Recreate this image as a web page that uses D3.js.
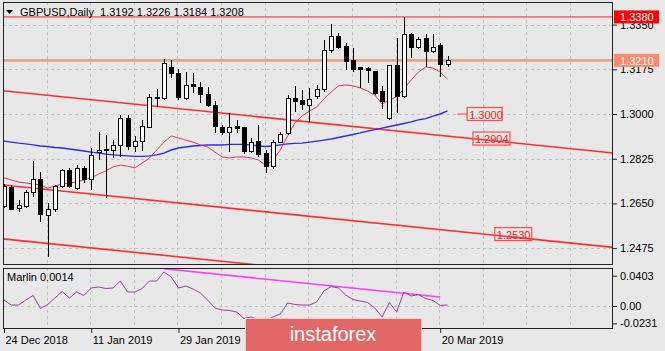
<!DOCTYPE html>
<html>
<head>
<meta charset="utf-8">
<script src="https://cdn.jsdelivr.net/npm/d3@7"></script>
<style>
    body { margin: 0; background: #e8e8e8; }
    text { font-family: "Liberation Sans", Arial, sans-serif; font-size: 11px; }
</style>
</head>
<body>
<div class="container"></div>
<script>
// GBPUSD daily bars, 24 Dec 2018 .. 21 Mar 2019
const open = [1.2637,1.2713,1.2629,1.2637,1.2694,1.2744,1.2601,1.2627,1.2715,1.2777,
    1.2708,1.2786,1.2744,1.2850,1.2862,1.2859,1.2876,1.2983,1.2872,1.2892,
    1.2948,1.3065,1.3061,1.3183,1.3159,1.3061,1.3115,1.3105,1.3078,1.3035,
    1.2946,1.2928,1.2953,1.2946,1.2855,1.2892,1.2846,1.2796,1.2889,1.2924,
    1.3061,1.3052,1.3035,1.3068,1.3094,1.3250,1.3305,1.3263,1.3211,1.3183,
    1.3179,1.3168,1.3087,1.2983,1.3188,1.3070,1.3313,1.3261,1.3296,1.3244,
    1.3267,1.3192]
const high = [1.2725,1.2722,1.2663,1.2703,1.2816,1.2774,1.2650,1.2722,1.2785,1.2787,
    1.2800,1.2796,1.2866,1.2931,1.2918,1.2898,1.2996,1.2996,1.2914,1.2977,
    1.3078,1.3097,1.3214,1.3211,1.3175,1.3166,1.3162,1.3126,1.3107,1.3052,
    1.2957,1.3003,1.2977,1.2950,1.2905,1.2957,1.2859,1.2898,1.2931,1.3074,
    1.3110,1.3094,1.3101,1.3114,1.3290,1.3352,1.3318,1.3277,1.3257,1.3185,
    1.3183,1.3170,1.3110,1.3192,1.3296,1.3381,1.3318,1.3300,1.3313,1.3313,
    1.3277,1.3226]
const low = [1.2632,1.2624,1.2618,1.2632,1.2676,1.2578,1.2440,1.2618,1.2709,1.2709,
    1.2703,1.2729,1.2703,1.2820,1.2670,1.2827,1.2833,1.2859,1.2852,1.2855,
    1.2944,1.3029,1.3055,1.3140,1.3055,1.3055,1.3081,1.3042,1.3029,1.2924,
    1.2918,1.2852,1.2924,1.2843,1.2846,1.2833,1.2770,1.2784,1.2885,1.2918,
    1.3009,1.3016,1.2970,1.3058,1.3087,1.3238,1.3253,1.3172,1.3166,1.3101,
    1.3123,1.3074,1.3018,1.2977,1.3003,1.3061,1.3218,1.3253,1.3185,1.3240,
    1.3146,1.3184]
const close = [1.2718,1.2628,1.2641,1.2694,1.2744,1.2605,1.2627,1.2715,1.2777,1.2715,
    1.2786,1.2744,1.2837,1.2858,1.2856,1.2876,1.2983,1.2872,1.2892,1.2950,
    1.3065,1.3061,1.3198,1.3159,1.3065,1.3111,1.3107,1.3078,1.3032,1.2953,
    1.2927,1.2948,1.2944,1.2852,1.2889,1.2840,1.2794,1.2889,1.2921,1.3059,
    1.3048,1.3039,1.3055,1.3094,1.3248,1.3305,1.3260,1.3205,1.3175,1.3175,
    1.3169,1.3081,1.3048,1.3188,1.3070,1.3313,1.3261,1.3292,1.3244,1.3261,
    1.3192,1.3208]

// moving averages
const maFast = [1.2750,1.2742,1.2734,1.2730,1.2726,1.2722,1.2710,1.2718,1.2726,1.2730,
    1.2734,1.2742,1.2750,1.2765,1.2777,1.2793,1.2800,1.2796,1.2789,1.2808,
    1.2828,1.2859,1.2890,1.2914,1.2906,1.2898,1.2890,1.2879,1.2871,1.2851,
    1.2832,1.2828,1.2832,1.2832,1.2828,1.2820,1.2799,1.2820,1.2859,1.2914,
    1.2965,1.2992,1.3012,1.3027,1.3059,1.3086,1.3110,1.3114,1.3110,1.3102,
    1.3090,1.3074,1.3039,1.3055,1.3067,1.3098,1.3133,1.3164,1.3184,1.3180,
    1.3164,1.3137]
const maSlow = [1.2894,1.2890,1.2886,1.2883,1.2879,1.2875,1.2873,1.2869,1.2867,1.2863,
    1.2859,1.2855,1.2851,1.2847,1.2843,1.2840,1.2838,1.2836,1.2834,1.2834,
    1.2836,1.2840,1.2847,1.2859,1.2867,1.2871,1.2875,1.2877,1.2879,1.2879,
    1.2879,1.2881,1.2881,1.2881,1.2879,1.2875,1.2873,1.2875,1.2879,1.2883,
    1.2885,1.2886,1.2890,1.2894,1.2898,1.2902,1.2908,1.2914,1.2920,1.2926,
    1.2933,1.2939,1.2945,1.2951,1.2957,1.2963,1.2969,1.2977,1.2982,1.2992,
    1.3000,1.3012]

// Marlin oscillator
const marlin = [0.0080,0.0013,0.0013,0.0080,0.0140,-0.0033,0.0020,0.0106,0.0193,0.0106,
    0.0186,0.0140,0.0239,0.0253,0.0233,0.0239,0.0332,0.0186,0.0186,0.0233,
    0.0332,0.0332,0.0452,0.0386,0.0239,0.0266,0.0226,0.0173,0.0080,-0.0027,
    -0.0053,-0.0060,-0.0080,-0.0166,-0.0146,-0.0186,-0.0199,-0.0146,-0.0106,0.0040,
    0.0020,0.0013,0.0013,0.0053,0.0199,0.0259,0.0239,0.0146,0.0086,0.0066,
    0.0047,-0.0027,-0.0146,0.0047,-0.0080,0.0186,0.0133,0.0153,0.0100,0.0073,
    0.0007,0.0014]

// hand drawn objects: [bar, price] pairs
const channelUpper = [[-2, 1.30966], [90, 1.28292]]
const channelMid = [[-2, 1.27275], [90, 1.24601]]
const channelLow = [[-2, 1.25166], [90, 1.22492]]
const marlinTrend = [[22, 0.0496], [60, 0.0120]]
const levelHigh = 1.3380
const levelMid = 1.3210
const priceNotes = [
    {text: "1.3000", bar: 63.7, price: 1.3000},
    {text: "1.2904", bar: 64.5, price: 1.2904},
    {text: "1.2530", bar: 67.5, price: 1.2530}
]

const priceTicks = [1.3350, 1.3175, 1.3000, 1.2825, 1.2650, 1.2475]
const marlinTicks = [0.0403, 0, -0.0231]
const marlinTickText = ["0.0403", "0.00", "-0.0231"]
// 14 Feb and 4 Mar sit under the watermark, so only the visible ones are labelled
const dateTickBars = [0, 12, 24, 60]
const dateTickText = ["24 Dec 2018", "11 Jan 2019", "29 Jan 2019", "20 Mar 2019"]

const width = 665
const height = 351
const left = 3, right = 613
const mainTop = 2, mainBottom = 264.5
const indTop = 267.5, indBottom = 329

const svg = d3.select(".container")
    .append("svg")
    .attr("width", width)
    .attr("height", height)

svg.append("rect")
    .attr("width", width)
    .attr("height", height)
    .attr("fill", "#e8e8e8")

const x = d3.scaleLinear().domain([0, 61]).range([4, 447.5])
const y = d3.scaleLinear().domain([1.2411, 1.34384]).range([mainBottom, mainTop])
const yi = d3.scaleLinear().domain([-0.0306, 0.0512]).range([indBottom, indTop])

const defs = svg.append("defs")
defs.append("clipPath").attr("id", "clipMain")
    .append("rect").attr("x", left).attr("y", mainTop)
    .attr("width", right - left).attr("height", mainBottom - mainTop)
defs.append("clipPath").attr("id", "clipInd")
    .append("rect").attr("x", left).attr("y", indTop)
    .attr("width", right - left).attr("height", indBottom - indTop)

const gridColor = "#c2c2c2"
const gridBars = d3.range(6, 84, 6)

// grid
const grid = svg.append("g")
    .attr("stroke", gridColor)
    .attr("stroke-dasharray", "3,3")
    .attr("shape-rendering", "crispEdges")

grid.selectAll(".hgrid")
    .data(priceTicks)
    .enter()
    .append("line")
    .attr("x1", left).attr("x2", right)
    .attr("y1", d => Math.round(y(d)) + 0.5)
    .attr("y2", d => Math.round(y(d)) + 0.5)

grid.selectAll(".vgrid")
    .data(gridBars)
    .enter()
    .append("line")
    .attr("x1", d => Math.round(x(d)) - 0.5)
    .attr("x2", d => Math.round(x(d)) - 0.5)
    .attr("y1", mainTop).attr("y2", mainBottom)

grid.selectAll(".vgrid2")
    .data(gridBars)
    .enter()
    .append("line")
    .attr("x1", d => Math.round(x(d)) - 0.5)
    .attr("x2", d => Math.round(x(d)) - 0.5)
    .attr("y1", indTop).attr("y2", indBottom)

grid.append("line")
    .attr("x1", left).attr("x2", right)
    .attr("y1", Math.round(yi(0)) + 0.5)
    .attr("y2", Math.round(yi(0)) + 0.5)

// main panel
const plot = svg.append("g").attr("clip-path", "url(#clipMain)")

const trend = d3.line()
    .x(d => x(d[0]))
    .y(d => y(d[1]))

// horizontal levels
plot.append("line")
    .attr("x1", left).attr("x2", right)
    .attr("y1", y(levelHigh)).attr("y2", y(levelHigh))
    .attr("stroke", "#ff4a4a")
    .attr("stroke-width", 1.4)

plot.append("line")
    .attr("x1", left).attr("x2", right)
    .attr("y1", y(levelMid)).attr("y2", y(levelMid))
    .attr("stroke", "#e6a38b")
    .attr("stroke-width", 2.6)

// channel
plot.selectAll(".channel")
    .data([channelUpper, channelMid, channelLow])
    .enter()
    .append("path")
    .attr("d", trend)
    .attr("fill", "none")
    .attr("stroke", "#ff2e2e")
    .attr("stroke-width", 1.6)

// moving averages
const maLine = d3.line()
    .x((d, i) => x(i))
    .y(d => y(d))

plot.append("path")
    .datum(maSlow)
    .attr("d", maLine)
    .attr("fill", "none")
    .attr("stroke", "#2b2bf5")
    .attr("stroke-width", 1.4)

plot.append("path")
    .datum(maFast)
    .attr("d", maLine)
    .attr("fill", "none")
    .attr("stroke", "#e0355a")
    .attr("stroke-width", 1)

// candles
const bars = open.map((o, i) => ({i: i, o: o, h: high[i], l: low[i], c: close[i]}))

const candles = plot.selectAll(".candle")
    .data(bars)
    .enter()
    .append("g")
    .attr("class", "candle")
    .attr("shape-rendering", "crispEdges")

candles.append("line")
    .attr("x1", d => Math.round(x(d.i)) + 0.5)
    .attr("x2", d => Math.round(x(d.i)) + 0.5)
    .attr("y1", d => y(d.h))
    .attr("y2", d => y(d.l))
    .attr("stroke", "#000")

candles.append("rect")
    .attr("x", d => Math.round(x(d.i)) - 1.5)
    .attr("y", d => y(Math.max(d.o, d.c)))
    .attr("width", 4)
    .attr("height", d => Math.max(1, y(Math.min(d.o, d.c)) - y(Math.max(d.o, d.c))))
    .attr("fill", d => d.c >= d.o ? "#fff" : "#000")
    .attr("stroke", "#000")

// price notes
const notes = svg.selectAll(".note")
    .data(priceNotes)
    .enter()
    .append("g")
    .attr("transform", d => `translate(${x(d.bar)}, ${y(d.price)})`)

notes.append("rect")
    .attr("x", 0).attr("y", -6.5)
    .attr("width", d => d.text === "1.3000" ? 35 : 37)
    .attr("height", 13)
    .attr("fill", "none")
    .attr("stroke", "#ff4a4a")
    .attr("stroke-width", 1.2)

notes.append("text")
    .attr("x", 2).attr("y", 4.5)
    .attr("fill", "#ff2020")
    .text(d => d.text)

svg.append("line")
    .attr("x1", x(priceNotes[0].bar) - 10).attr("x2", x(priceNotes[0].bar))
    .attr("y1", y(priceNotes[0].price)).attr("y2", y(priceNotes[0].price))
    .attr("stroke", "#ff4a4a")

// title
svg.append("path")
    .attr("d", "M6,10 L13,10 L9.5,14 Z")
    .attr("fill", "#000")
svg.append("text")
    .attr("x", 20).attr("y", 16)
    .style("white-space", "pre")
    .text("GBPUSD,Daily  1.3192 1.3226 1.3184 1.3208")

// indicator panel
const ind = svg.append("g").attr("clip-path", "url(#clipInd)")

ind.append("path")
    .datum(marlinTrend)
    .attr("d", d3.line().x(d => x(d[0])).y(d => yi(d[1])))
    .attr("fill", "none")
    .attr("stroke", "#ff3cff")
    .attr("stroke-width", 1.5)

ind.append("path")
    .datum(marlin)
    .attr("d", d3.line().x((d, i) => x(i)).y(d => yi(d)))
    .attr("fill", "none")
    .attr("stroke", "#a03aa6")
    .attr("stroke-width", 1)

svg.append("text")
    .attr("x", 7).attr("y", 281)
    .text("Marlin 0.0014")

// frames
svg.selectAll(".frame")
    .data([[mainTop, mainBottom], [indTop, indBottom]])
    .enter()
    .append("rect")
    .attr("x", left + 0.5)
    .attr("y", d => d[0] + 0.5)
    .attr("width", right - left - 1)
    .attr("height", d => d[1] - d[0] - 1)
    .attr("fill", "none")
    .attr("stroke", "#222")
    .attr("shape-rendering", "crispEdges")

// axes
const priceAxis = svg.append("g")
    .attr("transform", `translate(${right}, 0)`)
    .call(d3.axisRight(y).tickValues(priceTicks).tickSize(4).tickPadding(3).tickFormat(d3.format(".4f")))

const marlinAxis = svg.append("g")
    .attr("transform", `translate(${right}, 0)`)
    .call(d3.axisRight(yi).tickValues(marlinTicks).tickSize(4).tickPadding(3)
        .tickFormat((d, i) => marlinTickText[i]))

const dateAxis = svg.append("g")
    .attr("transform", `translate(0, ${indBottom})`)
    .call(d3.axisBottom(x).tickValues(dateTickBars).tickSize(4).tickPadding(3)
        .tickFormat((d, i) => dateTickText[i]))

dateAxis.selectAll("text").attr("text-anchor", "start").attr("dx", 1)

svg.selectAll(".domain").remove()
svg.selectAll(".tick text")
    .attr("fill", "#000")
    .style("font-family", "Liberation Sans, Arial, sans-serif")
    .style("font-size", "11px")
svg.selectAll(".tick line").attr("stroke", "#222")

// level labels on the price scale
const levelTags = [
    {text: "1.3380", price: levelHigh, fill: "#ff0000"},
    {text: "1.3210", price: levelMid, fill: "#fb8b68"}
]
const tags = svg.selectAll(".tag")
    .data(levelTags)
    .enter()
    .append("g")
    .attr("transform", d => `translate(${right + 1}, ${y(d.price)})`)

tags.append("rect")
    .attr("x", 0).attr("y", -6.5)
    .attr("width", 45).attr("height", 13)
    .attr("fill", d => d.fill)

tags.append("text")
    .attr("x", 6).attr("y", 4.5)
    .attr("fill", "#fff")
    .text(d => d.text)

// watermark
svg.append("rect")
    .attr("x", 245.5).attr("y", 318.5)
    .attr("width", 176).attr("height", 34)
    .attr("fill", "#e26868")
    .attr("stroke", "#f6c9c9")

svg.append("text")
    .attr("x", 333).attr("y", 341)
    .attr("text-anchor", "middle")
    .attr("fill", "#fff")
    .style("font-size", "20px")
    .text("instaforex")
</script>
</body>
</html>
